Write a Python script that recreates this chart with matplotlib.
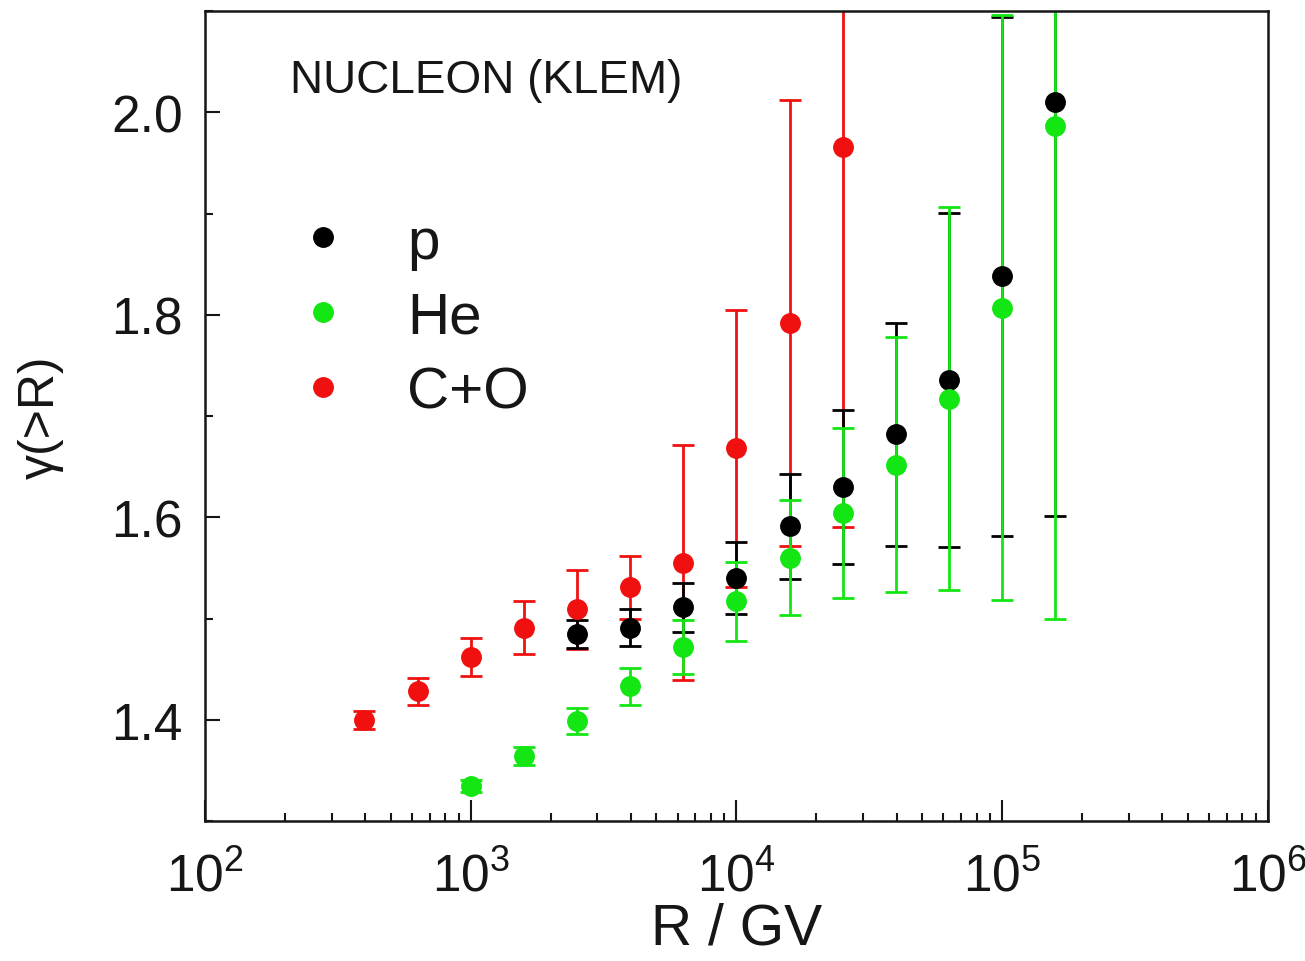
import numpy as np
import matplotlib
matplotlib.use("Agg")
import matplotlib.pyplot as plt
from matplotlib.lines import Line2D
from matplotlib.ticker import LogLocator, LogFormatterMathtext, MultipleLocator

plt.rcParams['font.family'] = ['Liberation Sans', 'DejaVu Sans']
plt.rcParams['mathtext.fontset'] = 'custom'
plt.rcParams['mathtext.rm'] = 'Liberation Sans'
plt.rcParams['mathtext.it'] = 'Liberation Sans'

# rigidity (GV)
R_co = [398, 631, 1000, 1585, 2512, 3981, 6310, 10000, 15849, 25119]
g_co = [1.400, 1.428, 1.462, 1.491, 1.509, 1.531, 1.555, 1.668, 1.792, 1.966]
e_co = [0.009, 0.013, 0.019, 0.026, 0.039, 0.031, 0.116, 0.137, 0.220, 0.376]

R_p = [2512, 3981, 6310, 10000, 15849, 25119, 39811, 63096, 100000, 158489]
g_p = [1.485, 1.491, 1.511, 1.540, 1.591, 1.630, 1.682, 1.736, 1.838, 2.010]
e_p = [0.014, 0.018, 0.024, 0.036, 0.052, 0.076, 0.110, 0.165, 0.256, 0.409]

R_he = [1000, 1585, 2512, 3981, 6310, 10000, 15849, 25119, 39811, 63096, 100000, 158489]
g_he = [1.335, 1.364, 1.399, 1.433, 1.472, 1.517, 1.560, 1.604, 1.652, 1.717, 1.807, 1.986]
e_he = [0.006, 0.009, 0.013, 0.018, 0.027, 0.039, 0.057, 0.084, 0.126, 0.189, 0.289, 0.486]

c_p, c_he, c_co = 'black', '#14e614', '#f01010'
tc = '#161616'

fig = plt.figure(figsize=(13.05, 9.62), dpi=100)
ax = fig.add_axes([0.157, 0.1455, 0.8147, 0.842])

kw = dict(fmt='o', ms=14, capsize=8, elinewidth=2, capthick=2)
ax.errorbar(R_co, g_co, yerr=e_co, color=c_co, **kw)
ax.errorbar(R_p, g_p, yerr=e_p, color=c_p, **kw)
ax.errorbar(R_he, g_he, yerr=e_he, color=c_he, **kw)

ax.set_xscale('log')
ax.set_xlim(1e2, 1e6)
ax.set_ylim(1.3, 2.1)
ax.xaxis.set_major_locator(LogLocator(base=10, numticks=10))
ax.xaxis.set_minor_locator(LogLocator(base=10, subs=np.arange(2, 10), numticks=100))
ax.xaxis.set_major_formatter(LogFormatterMathtext())
ax.yaxis.set_major_locator(MultipleLocator(0.2))
ax.yaxis.set_minor_locator(MultipleLocator(0.1))

ax.tick_params(axis='both', which='both', direction='in', width=1.5, colors=tc,
               labelsize=37, top=False, right=False)
ax.tick_params(axis='x', which='major', length=15, pad=22)
ax.tick_params(axis='x', which='minor', length=6)
ax.tick_params(axis='y', which='major', length=11, pad=16)
ax.tick_params(axis='y', which='minor', length=6)
for s in ax.spines.values():
    s.set_linewidth(1.8)
    s.set_color(tc)

ax.set_xlabel('R / GV', fontsize=41, color=tc, labelpad=0)
ax.set_ylabel('γ(>R)', fontsize=36, color=tc, labelpad=34)

ax.text(0.08, 0.915, 'NUCLEON (KLEM)', transform=ax.transAxes, fontsize=33,
        color=tc, va='center')

handles = [Line2D([], [], ls='none', marker='o', ms=14, color=c) for c in (c_p, c_he, c_co)]
ax.legend(handles, ['p', 'He', 'C+O'], loc='upper left', bbox_to_anchor=(0.034, 0.812),
          frameon=False, fontsize=42, handletextpad=0.95, labelspacing=0.36,
          handlelength=1.0, labelcolor=tc)

fig.savefig('out.png', dpi=100)
